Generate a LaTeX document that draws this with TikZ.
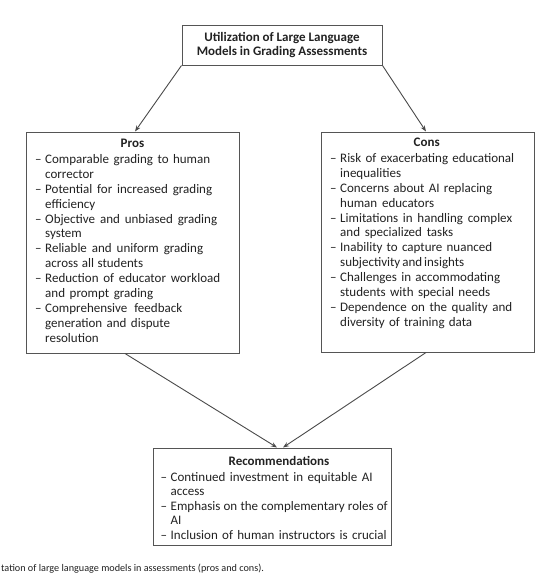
\documentclass[tikz,border=0pt]{standalone}
\usepackage{fontspec}
\setmainfont{Carlito}
\usetikzlibrary{arrows.meta,calc}
\definecolor{linegray}{HTML}{4A4A4A}
\definecolor{boxgray}{HTML}{555555}
\definecolor{textdark}{HTML}{222222}
\tikzset{
  boxnode/.style={draw=boxgray, line width=1pt, inner sep=0pt, fill=white},
  txt/.style={inner sep=0pt, text=textdark, font=\fontsize{13}{14.95}\selectfont},
  itemlist/.style={txt, align=left, anchor=north west},
  header/.style={txt, font=\fontsize{13}{14.95}\selectfont\bfseries, anchor=base},
  conn/.style={draw=linegray, line width=0.9pt, -{Stealth[length=6pt,width=4.5pt]}},
}
\newcommand{\itm}[2]{\makebox[10pt][l]{–}\makebox[#1pt][s]{#2}}
\newcommand{\cnt}[2]{\hspace*{10pt}\makebox[#1pt][s]{#2}}
\newcommand{\cntn}[1]{\hspace*{10pt}#1}
\begin{document}
\begin{tikzpicture}[x=1pt,y=-1pt]
\useasboundingbox[fill=white] (0,0) rectangle (559,576);

% title box
\node[boxnode, minimum width=200pt, minimum height=40pt, txt, font=\fontsize{13}{14.2}\selectfont\bfseries, align=center] (top) at (282,45)
  {Utilization of Large Language\\Models in Grading Assessments};

% pros
\node[boxnode, minimum width=213pt, minimum height=221pt] (pros) at (132.5,242.5) {};
\node[header] (prosh) at (132.5,147) {Pros};
\node[itemlist] (prosl) at (35,154) {%
\itm{165}{Comparable grading to human}\\
\cntn{corrector}\\
\itm{167}{Potential for increased grading}\\
\cntn{efficiency}\\
\itm{172}{Objective and unbiased grading}\\
\cntn{system}\\
\itm{158}{Reliable and uniform grading}\\
\cnt{98}{across all students}\\
\itm{175}{Reduction of educator workload}\\
\cnt{108}{and prompt grading}\\
\itm{137}{Comprehensive feedback}\\
\cnt{125}{generation and dispute}\\
\cntn{resolution}};

% cons
\node[boxnode, minimum width=213pt, minimum height=220pt] (cons) at (427.5,242) {};
\node[header] (consh) at (426.7,146.5) {Cons};
\node[itemlist] (consl) at (330,153) {%
\itm{174}{Risk of exacerbating educational}\\
\cntn{inequalities}\\
\itm{152}{Concerns about AI replacing}\\
\cnt{94}{human educators}\\
\itm{172}{Limitations in handling complex}\\
\cnt{113}{and specialized tasks}\\
\itm{152}{Inability to capture nuanced}\\
\cnt{123}{subjectivity and insights}\\
\itm{160}{Challenges in accommodating}\\
\cnt{150}{students with special needs}\\
\itm{172}{Dependence on the quality and}\\
\cnt{132}{diversity of training data}};

% recommendations
\node[boxnode, minimum width=238pt, minimum height=97pt] (rec) at (272,496.5) {};
\node[header] (rech) at (279,465) {Recommendations};
\node[itemlist, font=\fontsize{13}{14.5}\selectfont] (recl) at (160.5,472) {%
\itm{202}{Continued investment in equitable AI}\\
\cntn{access}\\
\itm{217}{Emphasis on the complementary roles of}\\
\cntn{AI}\\
\itm{216}{Inclusion of human instructors is crucial}};

% connectors
\draw[conn] (top.south west) -- ([xshift=2.5pt]pros.north);
\draw[conn] (top.south east) -- ([xshift=-1.5pt]cons.north);
\draw[conn] ([xshift=-7.5pt]pros.south) -- ([xshift=5pt]rec.north);
\draw[conn] ([xshift=-1.5pt]cons.south) -- ([xshift=11pt]rec.north);

% caption
\node[txt, font=\fontsize{10.2}{12}\selectfont, anchor=base west] (cap) at (1,571)
  {tation of large language models in assessments (pros and cons).};
\end{tikzpicture}
\end{document}
